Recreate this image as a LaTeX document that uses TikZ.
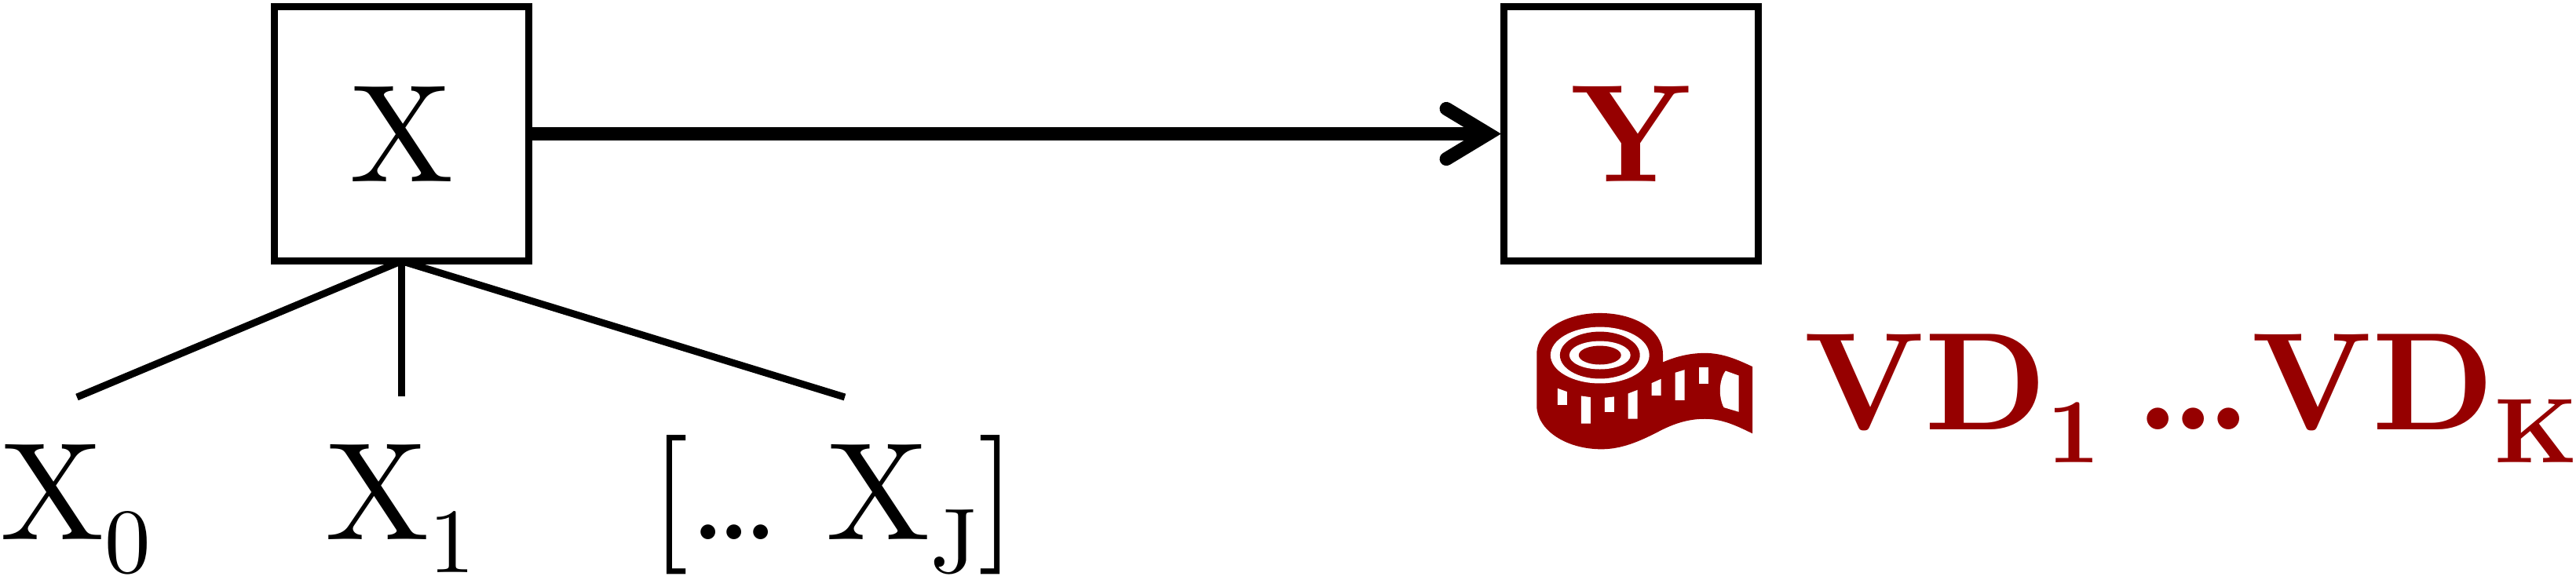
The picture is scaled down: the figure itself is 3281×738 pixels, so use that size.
\documentclass[tikz,border=0pt]{standalone}
\usepackage{fontspec}
\setmainfont{lmroman10-regular}[Extension=.otf,BoldFont=lmroman10-bold]
\usetikzlibrary{arrows.meta}
\definecolor{dred}{HTML}{960000}
\newcommand{\subtxt}[1]{\lower12.2pt\hbox{\fontsize{33.3}{40}\selectfont #1}}
\newcommand{\dotsthree}{.\kern-.09em.\kern-.09em.}
\tikzset{
  x=0.01cm,y=-0.01cm,
  bigtext/.style={inner sep=0pt,outer sep=0pt,font=\fontsize{50.4}{60}\selectfont},
  varbox/.style={draw=black,line width=2.56pt,minimum width=3.24cm,minimum height=3.24cm,inner sep=0pt,bigtext,outer sep=0pt},
  edge/.style={line width=2.56pt},
  bigarrow/.style={line width=5.1pt,shorten >=1.0pt,-{Straight Barb[length=0.53cm,width=0.64cm,line width=4.9pt,line cap=round,line join=miter]}},
}
\begin{document}
\begin{tikzpicture}
\useasboundingbox (0,0) rectangle (3281,738);
\node[varbox] (x) at (511.5,170.5) {X};
\node[varbox,text=dred] (y) at (2077.5,170.5) {\textbf{Y}};
\draw[bigarrow] (x.east) -- (y.west);
\coordinate (e0) at (98,506);
\coordinate (e1) at (511.5,505);
\coordinate (e2) at (1076,506);
\draw[edge] (x.south) -- (e0);
\draw[edge] (x.south) -- (e1);
\draw[edge] (x.south) -- (e2);
\node[bigtext,anchor=base west] (x0) at (1,687) {X\subtxt{0}};
\node[bigtext,anchor=base west] (x1) at (414,687) {X\subtxt{1}};
\node[bigtext,anchor=base west] (xj) at (828,687) {[\dotsthree\ X\subtxt{J}]};
\node[bigtext,anchor=base west,text=dred] (vd) at (2297,547) {\bfseries VD\subtxt{1}\kern.26em.\kern-.065em.\kern-.065em.VD\subtxt{K}};
\begin{scope}[shift={(1900,360)},x=0.003333cm,y=-0.003333cm]
\fill[dred] (172,275) .. controls (172,180) and (285,117) .. (415,117)
  .. controls (545,117) and (655,180) .. (655,275) -- (655,305)
  .. controls (700,285) and (755,270) .. (815,270)
  .. controls (885,270) and (940,295) .. (998,322) -- (998,578)
  .. controls (940,550) and (885,522) .. (815,522)
  .. controls (740,522) and (680,548) .. (630,575)
  .. controls (570,605) and (500,638) .. (420,638)
  .. controls (285,638) and (172,565) .. (172,470) -- cycle;
\fill[white] (414,278) ellipse [x radius=189,y radius=108];
\fill[dred] (414,278) ellipse [x radius=153,y radius=90];
\fill[white] (414,278) ellipse [x radius=117,y radius=54];
\fill[dred] (414,278) ellipse [x radius=81,y radius=36];
\fill[white] (252,405) -- (288,418) -- (288,468) -- (252,468) -- cycle;
\fill[white] (342,434) -- (378,439) -- (378,540) -- (342,540) -- cycle;
\fill[white] (432,441) -- (468,437) -- (468,495) -- (432,495) -- cycle;
\fill[white] (522,425) -- (558,411) -- (558,522) -- (522,522) -- cycle;
\fill[white] (612,385) -- (648,369) -- (648,432) -- (612,432) -- cycle;
\fill[white] (702,345) -- (738,334) -- (738,450) -- (702,450) -- cycle;
\fill[white] (792,325) -- (828,325) -- (828,387) -- (792,387) -- cycle;
\fill[white] (895,338) -- (945,356) -- (945,495) -- (888,478)
  .. controls (868,440) and (868,375) .. (895,338) -- cycle;
\end{scope}
\end{tikzpicture}
\end{document}
